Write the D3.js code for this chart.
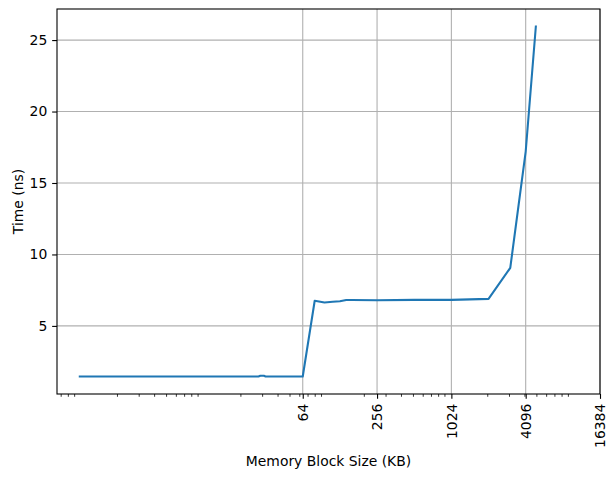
<!DOCTYPE html>
<html>
<head>
<meta charset="utf-8">
<script src="https://cdn.jsdelivr.net/npm/d3@7"></script>
<style>
  body { margin: 0; background: #fff; }
  svg { display: block; font-family: "DejaVu Sans", sans-serif; }
</style>
</head>
<body>
<svg id="chart" width="616" height="478"></svg>
<script>
// ---- data ----
const sizesKB = [1, 2, 4, 8, 16, 28, 29, 31, 32, 48, 64, 80, 96, 112, 128, 144, 160, 256, 512, 1024, 2048, 3072, 4096, 4950];
const timesNs = [1.46, 1.46, 1.46, 1.46, 1.46, 1.46, 1.51, 1.51, 1.46, 1.46, 1.46, 6.76, 6.64, 6.69, 6.72, 6.81, 6.81, 6.80, 6.82, 6.82, 6.89, 9.06, 17.2, 25.95];
const xTickValues = [64, 256, 1024, 4096, 16384];
const xTickLabels = ["64", "256", "1024", "4096", "16384"];
const yTickValues = [5, 10, 15, 20, 25];
const xLabel = "Memory Block Size (KB)";
const yLabel = "Time (ns)";

const data = sizesKB.map((s, i) => ({ x: s, y: timesNs[i] }));

const svg = d3.select("#chart");
const L = 57, R = 600, T = 9, B = 394;

// x domain: log2 extent with 5% padding, extended to include last tick
const lx = d3.extent(sizesKB, d => Math.log2(d));
const px = (lx[1] - lx[0]) * 0.05;
const xmin = Math.pow(2, lx[0] - px);
const xmax = Math.max(Math.pow(2, lx[1] + px), d3.max(xTickValues));
const x = d3.scaleLog().base(2).domain([xmin, xmax]).range([L, R]);

const ey = d3.extent(timesNs);
const py = (ey[1] - ey[0]) * 0.05;
const y = d3.scaleLinear().domain([ey[0] - py, ey[1] + py]).range([B, T]);

// minor ticks (log10 subs 2..9)
const minor = [];
for (let k = -1; k <= 5; k++) {
  for (let d = 2; d <= 9; d++) {
    const v = d * Math.pow(10, k);
    if (v >= xmin && v <= xmax) minor.push(v);
  }
}

// grid
const grid = svg.append("g").attr("stroke", "#b0b0b0").attr("stroke-width", 1.1);
xTickValues.forEach(v => {
  grid.append("line").attr("x1", x(v)).attr("x2", x(v)).attr("y1", T).attr("y2", B);
});
yTickValues.forEach(v => {
  grid.append("line").attr("x1", L).attr("x2", R).attr("y1", y(v)).attr("y2", y(v));
});

// line
svg.append("path")
  .datum(data)
  .attr("fill", "none")
  .attr("stroke", "#1f77b4")
  .attr("stroke-width", 2.08)
  .attr("stroke-linejoin", "round")
  .attr("stroke-linecap", "square")
  .attr("d", d3.line().x(d => x(d.x)).y(d => y(d.y)));

// axes
const xAxis = d3.axisBottom(x).tickValues(xTickValues)
  .tickFormat((d, i) => xTickLabels[i]).tickSize(4.86).tickPadding(4.86);
const gx = svg.append("g").attr("transform", `translate(0,${B})`).call(xAxis);
gx.select(".domain").remove();
gx.selectAll("line").attr("stroke", "#000").attr("stroke-width", 1.1);
gx.selectAll("text")
  .attr("font-size", "13.9px")
  .attr("font-family", "DejaVu Sans, sans-serif")
  .attr("fill", "#000")
  .attr("text-anchor", "end")
  .attr("transform", "rotate(-90)")
  .attr("x", -9.7)
  .attr("y", 0)
  .attr("dy", "0.35em");

const xMinor = d3.axisBottom(x).tickValues(minor).tickFormat("").tickSize(2.78);
const gxm = svg.append("g").attr("transform", `translate(0,${B})`).call(xMinor);
gxm.select(".domain").remove();
gxm.selectAll("line").attr("stroke", "#000").attr("stroke-width", 0.8);

const yAxis = d3.axisLeft(y).tickValues(yTickValues).tickSize(4.86).tickPadding(4.86);
const gy = svg.append("g").attr("transform", `translate(${L},0)`).call(yAxis);
gy.select(".domain").remove();
gy.selectAll("line").attr("stroke", "#000").attr("stroke-width", 1.1);
gy.selectAll("text")
  .attr("font-size", "13.9px")
  .attr("font-family", "DejaVu Sans, sans-serif")
  .attr("fill", "#000");

// spines
svg.append("rect")
  .attr("x", L).attr("y", T).attr("width", R - L).attr("height", B - T)
  .attr("fill", "none").attr("stroke", "#000").attr("stroke-width", 1.1);

// labels
svg.append("text")
  .attr("x", (L + R) / 2).attr("y", 466)
  .attr("text-anchor", "middle")
  .attr("font-size", "13.9px")
  .text(xLabel);

svg.append("text")
  .attr("transform", `translate(22.5,${(T + B) / 2}) rotate(-90)`)
  .attr("text-anchor", "middle")
  .attr("font-size", "13.9px")
  .text(yLabel);
</script>
</body>
</html>
